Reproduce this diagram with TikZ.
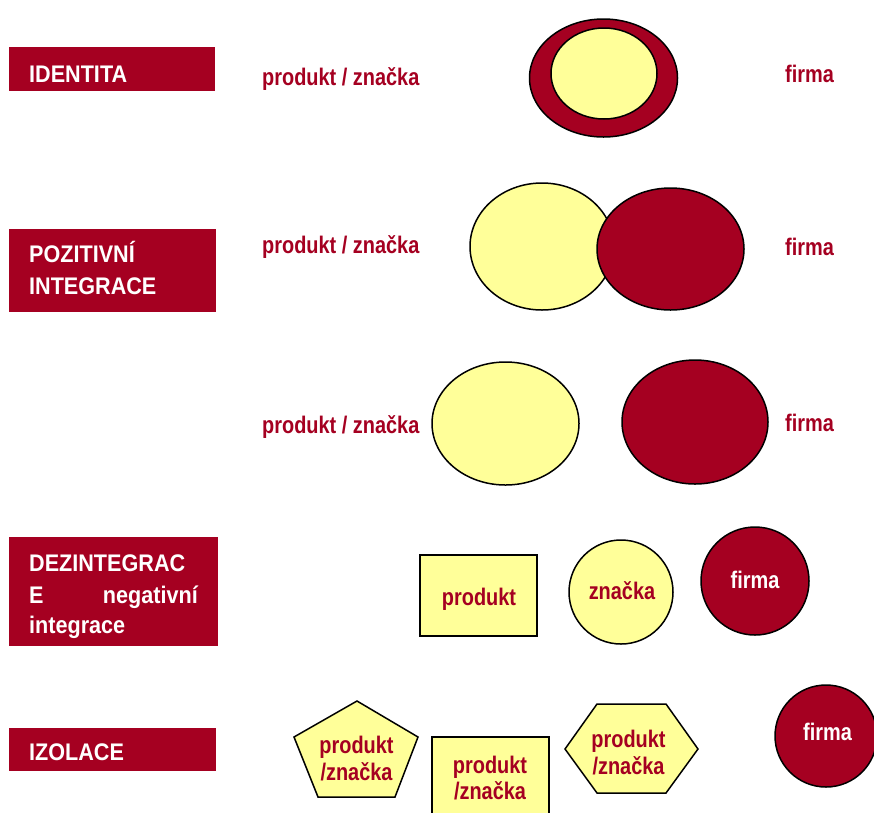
\documentclass[tikz,border=0pt]{standalone}
\usepackage{fontspec}
\setmainfont{Liberation Sans}
\newfontfamily\labfont{Liberation Sans}[FakeStretch=0.9]
\newfontfamily\txtfont{Liberation Sans}[FakeStretch=0.83]
\definecolor{dred}{HTML}{A50021}
\definecolor{lyel}{HTML}{FFFF99}
\begin{document}
\begin{tikzpicture}[x=1pt,y=-1pt,
  labelbox/.style={fill=dred,draw=none},
  labtext/.style={text=white,font=\labfont\bfseries\fontsize{24}{28}\selectfont,inner sep=0pt,anchor=base west},
  redtext/.style={text=dred,font=\txtfont\bfseries\fontsize{24}{28}\selectfont,inner sep=0pt,anchor=base},
  whtext/.style={text=white,font=\txtfont\bfseries\fontsize{24}{28}\selectfont,inner sep=0pt,anchor=base},
  ybody/.style={fill=lyel,draw=black,line width=1.5pt},
  rbody/.style={fill=dred,draw=black,line width=1.5pt}]
\useasboundingbox[fill=white] (0,0) rectangle (874,812);

% ---------- row 1: IDENTITA
\fill[labelbox] (9,47) rectangle (215,91);
\node[labtext] (l1) at (29,82) {IDENTITA};
\node[redtext,anchor=base west] (p1) at (262,85) {produkt / značka};
\node[redtext] (f1) at (809.5,82) {firma};
\draw[rbody] (603.5,78) ellipse [x radius=74, y radius=59];
\draw[ybody] (604,73.5) ellipse [x radius=53, y radius=45.5];

% ---------- row 2: POZITIVNI INTEGRACE
\fill[labelbox] (9,229) rectangle (216,312);
\node[labtext] (l2a) at (29,262) {POZITIVNÍ};
\node[labtext] (l2b) at (29,294) {INTEGRACE};
\node[redtext,anchor=base west] (p2) at (262,253) {produkt / značka};
\node[redtext] (f2) at (809.5,255) {firma};
\draw[ybody] (542,246.5) ellipse [x radius=72, y radius=63.5];
\draw[rbody] (670.5,249) ellipse [x radius=73.5, y radius=61];

% ---------- row 3
\node[redtext,anchor=base west] (p3) at (262,433) {produkt / značka};
\node[redtext] (f3) at (809.5,431) {firma};
\draw[ybody] (505.5,423.5) ellipse [x radius=73.5, y radius=61.5];
\draw[rbody] (695,422) ellipse [x radius=73, y radius=62];

% ---------- row 4: DEZINTEGRACE
\fill[labelbox] (9,537) rectangle (218,646);
\node[labtext] (l4a) at (29,571) {DEZINTEGRAC};
\node[labtext] (l4b) at (29,603) {E};
\node[labtext,anchor=base east] (l4c) at (198,603) {negativní};
\node[labtext] (l4d) at (29,633) {integrace};
\draw[ybody] (420,555) rectangle (537,636);
\node[redtext] (t4a) at (479,605) {produkt};
\draw[ybody] (621,592) circle [radius=52];
\node[redtext] (t4b) at (622,599) {značka};
\draw[rbody] (755,581) circle [radius=54];
\node[whtext] (t4c) at (755,588) {firma};

% ---------- row 5: IZOLACE
\fill[labelbox] (9,728) rectangle (216,771);
\node[labtext] (l5) at (29,760) {IZOLACE};
\draw[ybody] (357,701) -- (418,737) -- (395,797) -- (318,797) -- (294,737) -- cycle;
\node[redtext] (t5a) at (356.5,753) {produkt};
\node[redtext] (t5b) at (356.5,780) {/značka};
\draw[ybody] (432,737) rectangle (549,816);
\node[redtext] (t5c) at (490,773) {produkt};
\node[redtext] (t5d) at (490,799) {/značka};
\draw[ybody] (565,749) -- (597,704) -- (666,704) -- (698,749) -- (666,793) -- (597,793) -- cycle;
\node[redtext] (t5e) at (628.5,747) {produkt};
\node[redtext] (t5f) at (628.5,774) {/značka};
\draw[rbody] (826,736) circle [radius=51];
\node[whtext] (t5g) at (827.5,740) {firma};
\end{tikzpicture}
\end{document}
